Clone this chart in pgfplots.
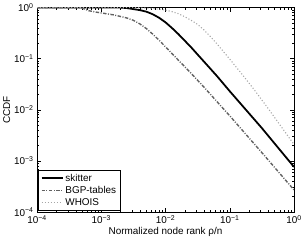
\documentclass[border=0pt]{standalone}
\usepackage{fontspec}
\setmainfont{Liberation Sans}
\usepackage{pgfplots}
\pgfplotsset{compat=1.18}
\begin{document}
\fontsize{10bp}{11bp}\selectfont
\begin{tikzpicture}
\begin{axis}[
  width=259bp, height=206bp, scale only axis,
  xmode=log, ymode=log,
  xmin=1e-4, xmax=1, ymin=1e-4, ymax=1,
  xtick={1e-4,1e-3,1e-2,1e-1,1},
  xticklabels={10\textsuperscript{−4},10\textsuperscript{−3},10\textsuperscript{−2},10\textsuperscript{−1},10\textsuperscript{0}},
  ytick={1e-4,1e-3,1e-2,1e-1,1},
  yticklabels={10\textsuperscript{−4},10\textsuperscript{−3},10\textsuperscript{−2},10\textsuperscript{−1},10\textsuperscript{0}},
  tick label style={font=\fontsize{10bp}{11bp}\selectfont},
  label style={font=\fontsize{10bp}{11bp}\selectfont},
  xlabel={Normalized node rank ρ/n},
  ylabel={CCDF},
  xlabel style={yshift=3bp},
  ylabel style={yshift=-3bp},
  major tick length=4bp, minor tick length=2bp,
  every tick/.style={black, line width=0.4pt},
  axis line style={line width=0.6pt},
  legend style={at={(0.005,0.005)}, anchor=south west, draw=black, line width=0.5pt,
    font=\fontsize{10bp}{11bp}\selectfont, row sep=-0.5bp, inner sep=2bp},
  legend cell align=left,
  legend image code/.code={\draw[#1] (0cm,0cm) -- (0.75cm,0cm);},
]
\addplot[black, line width=1.8pt] coordinates {
(1e-4,1) (0.001995,1) (0.002512,0.977) (0.003162,0.933) (0.003981,0.891)
(0.005012,0.832) (0.00631,0.741) (0.007943,0.631) (0.01,0.513)
(0.01259,0.398) (0.01585,0.302) (0.01995,0.224) (0.02512,0.166)
(0.03162,0.120) (0.03981,0.0871) (0.0631,0.0457) (0.1,0.0230)
(0.3162,0.004365) (1,0.000759)};
\addlegendentry{skitter}
\addplot[black!62, line width=1.4pt, dash pattern=on 3.5pt off 1.5pt on 1pt off 1.5pt] coordinates {
(1e-4,1) (4.467e-4,1) (5.012e-4,0.977) (5.623e-4,0.923) (6.31e-4,0.871)
(7.943e-4,0.822) (1e-3,0.785) (1.585e-3,0.716) (2.512e-3,0.624)
(3.162e-3,0.562) (3.981e-3,0.479) (5.012e-3,0.389) (6.31e-3,0.302)
(7.943e-3,0.229) (0.01,0.170) (0.01259,0.126) (0.01585,0.0933)
(0.02512,0.0513) (0.03981,0.0275) (0.0631,0.01445) (0.1,0.00759)
(0.3162,0.001445) (1,0.000269)};
\addlegendentry{BGP{-}tables}
\addplot[black!35, line width=1.1pt, dotted] coordinates {
(1e-4,1) (0.003162,1) (0.005012,0.977) (0.007943,0.933) (0.01,0.891)
(0.01259,0.832) (0.01585,0.759) (0.01995,0.661) (0.02512,0.562)
(0.03162,0.468) (0.03981,0.363) (0.05012,0.269) (0.0631,0.195)
(0.07943,0.138) (0.1,0.0977) (0.1585,0.0479) (0.2512,0.0229)
(0.3981,0.01047) (0.631,0.004677) (1,0.002089)};
\addlegendentry{WHOIS}
\end{axis}
\end{tikzpicture}
\end{document}
